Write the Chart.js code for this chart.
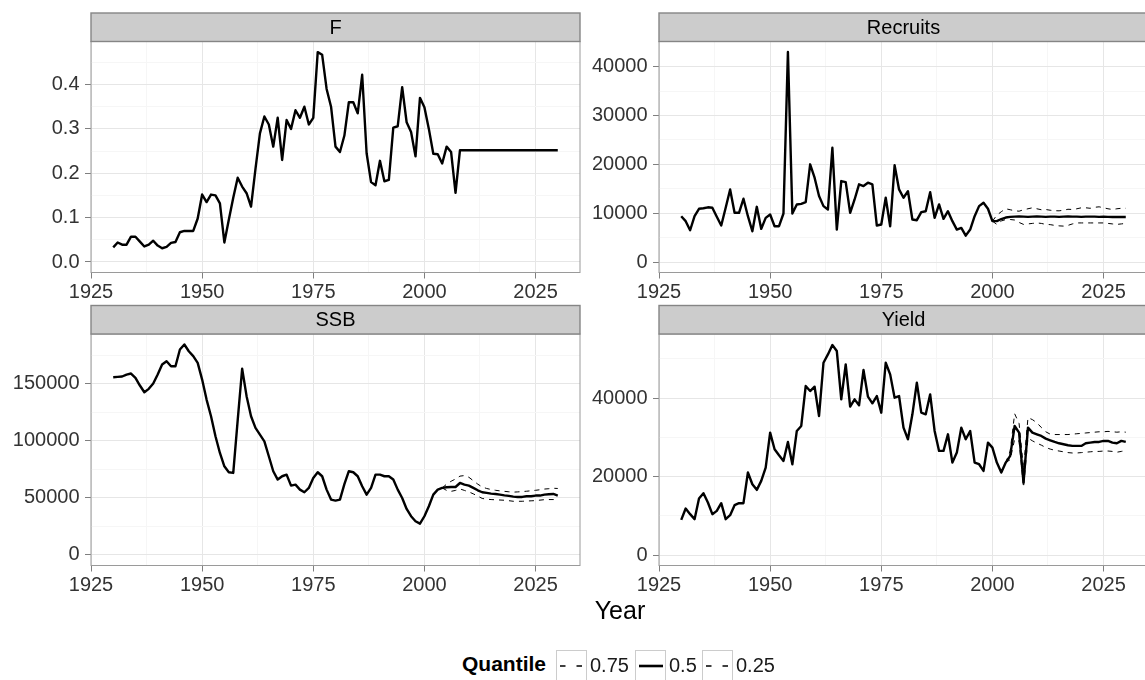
<!DOCTYPE html>
<html>
<head>
<meta charset="utf-8">
<title>Stock projection quantiles</title>
<script src="https://cdn.jsdelivr.net/npm/chart.js@4.4.0/dist/chart.umd.min.js"></script>
<style>
  html, body { margin: 0; padding: 0; background: #fff; }
  #fig { position: relative; width: 1145px; height: 680px; overflow: hidden; background: #fff;
         font-family: "Liberation Sans", Arial, Helvetica, sans-serif; color: #000; }
  #fig canvas { position: absolute; }
  .txt { position: absolute; white-space: nowrap; }
  #xtitle { left: 520px; width: 200px; top: 598px; font-size: 25px; line-height: 25px; text-align: center; }
  .lg { font-size: 20px; line-height: 20px; top: 655px; color: #1a1a1a; }
  #lgTitle { font-weight: bold; font-size: 21px; color: #000; top: 654px; }
  .key { position: absolute; top: 650px; width: 29px; height: 29px; border: 1px solid #cccccc; background: #fff; }
  .key svg { position: absolute; left: 0; top: 0; }
</style>
</head>
<body>
<div id="fig">
  <canvas id="cF" width="590" height="305" style="left:0px;top:0px"></canvas>
  <canvas id="cR" width="590" height="305" style="left:569px;top:0px"></canvas>
  <canvas id="cS" width="590" height="305" style="left:0px;top:293px"></canvas>
  <canvas id="cY" width="590" height="305" style="left:569px;top:293px"></canvas>

  <div id="xtitle" class="txt">Year</div>

  <div id="lgTitle" class="txt lg" style="left:462px">Quantile</div>
  <div class="key" style="left:556px"><svg width="29" height="29"><line x1="3" y1="15" x2="27" y2="15" stroke="#000" stroke-width="1.3" stroke-dasharray="5.5 11"/></svg></div>
  <div class="txt lg" style="left:590px">0.75</div>
  <div class="key" style="left:635px"><svg width="29" height="29"><line x1="3" y1="15" x2="27" y2="15" stroke="#000" stroke-width="2.6"/></svg></div>
  <div class="txt lg" style="left:669px">0.5</div>
  <div class="key" style="left:702px"><svg width="29" height="29"><line x1="3" y1="15" x2="27" y2="15" stroke="#000" stroke-width="1.3" stroke-dasharray="5.5 11"/></svg></div>
  <div class="txt lg" style="left:736px">0.25</div>
</div>

<script>
// ---- data -------------------------------------------------------------
const years = [
  1930,1931,1932,1933,1934,1935,1936,1937,1938,1939,
  1940,1941,1942,1943,1944,1945,1946,1947,1948,1949,
  1950,1951,1952,1953,1954,1955,1956,1957,1958,1959,
  1960,1961,1962,1963,1964,1965,1966,1967,1968,1969,
  1970,1971,1972,1973,1974,1975,1976,1977,1978,1979,
  1980,1981,1982,1983,1984,1985,1986,1987,1988,1989,
  1990,1991,1992,1993,1994,1995,1996,1997,1998,1999,
  2000,2001,2002,2003,2004,2005,2006,2007,2008,2009,
  2010,2011,2012,2013,2014,2015,2016,2017,2018,2019,
  2020,2021,2022,2023,2024,2025,2026,2027,2028,2029,
  2030
];

// axis breaks (labelled) and minor breaks (grid only)
const yearBreaks = [1925, 1950, 1975, 2000, 2025];
const yearMinorBreaks = [1937.5, 1962.5, 1987.5, 2012.5];
const fBreaks = [0, 0.1, 0.2, 0.3, 0.4];
const fMinorBreaks = [0.05, 0.15, 0.25, 0.35, 0.45];
const recBreaks = [0, 10000, 20000, 30000, 40000];
const recMinorBreaks = [5000, 15000, 25000, 35000];
const ssbBreaks = [0, 50000, 100000, 150000];
const ssbMinorBreaks = [25000, 75000, 125000, 175000];
const yieldBreaks = [0, 20000, 40000];
const yieldMinorBreaks = [10000, 30000, 50000];

// fishing mortality, median
const fMedian = [
  0.033,0.044,0.039,0.039,0.057,0.057,0.046,0.035,0.039,0.048,
  0.037,0.031,0.034,0.043,0.045,0.067,0.070,0.070,0.070,0.098,
  0.152,0.135,0.152,0.150,0.132,0.044,0.095,0.145,0.190,0.170,
  0.155,0.125,0.210,0.290,0.328,0.310,0.260,0.325,0.230,0.320,
  0.300,0.342,0.325,0.350,0.310,0.325,0.473,0.467,0.390,0.350,
  0.260,0.248,0.285,0.360,0.360,0.335,0.422,0.245,0.180,0.173,
  0.228,0.182,0.185,0.303,0.306,0.394,0.315,0.293,0.238,0.370,
  0.349,0.300,0.244,0.243,0.222,0.260,0.248,0.156,0.252,0.252,
  0.252,0.252,0.252,0.252,0.252,0.252,0.252,0.252,0.252,0.252,
  0.252,0.252,0.252,0.252,0.252,0.252,0.252,0.252,0.252,0.252,
  0.252
];

// recruitment
const recMedian = [
  9380,8360,6500,9380,10900,11000,11200,11100,9250,7470,
  11100,14860,10070,10070,12950,9380,6300,11300,6780,9040,
  9730,7330,7330,9930,43000,9930,11780,11900,12260,20000,
  17260,13500,11440,10750,23400,6640,16570,16370,10070,12800,
  15900,15550,16230,15900,7470,7670,13150,7330,19800,14860,
  13150,14500,8700,8560,10200,10400,14300,9040,11780,8840,
  10400,8360,6640,6990,5400,6640,9380,11440,12120,10900,
  8360,8360,8800,9100,9250,9300,9350,9300,9250,9300,
  9350,9300,9250,9300,9300,9250,9300,9350,9300,9300,
  9250,9300,9300,9300,9250,9300,9250,9200,9250,9200,
  9200
];
const recQStart = 2000;
const recQ75 = [
  8360,9600,10300,10900,10700,10500,10400,10700,10900,11100,
  10900,10700,10750,10600,10500,10480,10600,10800,10750,10900,
  11100,11100,11000,11200,11300,11100,10900,10750,10900,11000,
  11000
];
const recQ25 = [
  8360,7700,8400,8700,8700,8600,8100,7700,7800,7900,
  8000,7900,7700,7650,7500,7400,7350,7500,7800,8000,
  8000,8000,8000,8000,8000,8000,7900,7800,7700,7800,
  7900
];

// spawning stock biomass
const ssbMedian = [
  155600,155900,156200,157900,158800,155000,148300,142400,145400,150000,
  157900,166700,169600,165200,165200,179800,184200,178300,174000,168100,
  153500,136000,121400,103900,89300,77600,72400,71800,118000,163000,
  139000,121400,111200,105400,99500,86400,73300,66000,68900,70300,
  60700,61600,57200,54900,58700,67400,72400,68900,57200,48500,
  47600,48500,62000,73300,72400,68900,60100,52800,58700,70300,
  70300,68900,68900,66000,57200,49900,40300,33900,29500,27400,
  33900,42600,52800,57200,58700,59300,59500,59500,63000,61600,
  60700,58700,56600,54900,54300,53700,53400,52800,52200,51700,
  51100,50800,50800,51400,51400,52000,52000,52800,53100,53400,
  52000
];
const ssbQStart = 2004;
const ssbQ75 = [
  58700,62000,64500,66500,69000,69500,68000,65000,62000,59500,
  58200,57300,56600,56100,55700,55300,55000,55200,55500,55800,
  56200,56600,57100,57700,58000,58400,58200
];
const ssbQ25 = [
  58700,56500,55700,56500,57800,56500,55200,53500,51500,49500,
  48800,48500,48300,48100,47900,47500,47000,47000,47000,47200,
  47400,47600,48000,48400,48500,48500,48400
];

// yield
const yieldMedian = [
  8980,11860,10420,9150,14400,15760,13390,10420,11270,13220,
  9150,10170,12710,13220,13220,21020,18050,16610,18900,22290,
  31190,26950,25420,23980,28810,23140,31610,32880,43050,41780,
  42880,35420,48980,51100,53500,51950,39660,48560,37800,39660,
  38140,47120,40340,38640,40510,36270,48980,46020,40080,40510,
  32460,29490,35850,43900,36270,35850,40930,31610,26530,26530,
  30760,23560,26100,32460,29490,31610,23560,23140,21440,28640,
  27370,23560,21020,23560,25250,32880,31190,18470,32460,31190,
  30760,30340,29660,29240,28810,28470,28220,27970,27800,27800,
  27800,28470,28640,28810,28810,29070,29070,28640,28470,29070,
  28810
];
const yieldQStart = 2003;
const yieldQ75 = [
  23560,26500,36000,33500,22000,35000,34500,33700,32500,31400,
  30800,30700,30700,30700,30700,30800,30900,31000,31100,31200,
  31300,31400,31400,31500,31400,31300,31400,31300
];
const yieldQ25 = [
  23560,24300,29500,29000,17200,29800,29100,28500,28000,27400,
  27000,26700,26500,26300,26100,26000,26000,26100,26200,26300,
  26400,26400,26500,26500,26400,26200,26400,26600
];

// ---- helpers ----------------------------------------------------------
const FONT = '"Liberation Sans", Arial, Helvetica, sans-serif';
Chart.defaults.font.family = FONT;

function seriesPoints(values) {
  return years.map((yr, i) => ({ x: yr, y: values[i] }));
}
function projectionPoints(startYear, values) {
  return years
    .filter(yr => yr >= startYear)
    .map((yr, i) => ({ x: yr, y: values[i] }));
}

// facet strip above the panel plus the panel border
const facetPlugin = {
  id: 'facet',
  afterDatasetsDraw(chart, args, opts) {
    const { ctx, chartArea: a } = chart;
    const w = a.right - a.left;
    ctx.save();
    ctx.lineWidth = 1;
    ctx.strokeStyle = '#9a9a9a';
    ctx.strokeRect(a.left, a.top, w, a.bottom - a.top);
    const h = 28.5;
    ctx.fillStyle = '#cccccc';
    ctx.fillRect(a.left, a.top - h, w, h);
    ctx.strokeStyle = '#858585';
    ctx.lineWidth = 1.4;
    ctx.strokeRect(a.left, a.top - h, w, h);
    ctx.fillStyle = '#000';
    ctx.font = '20px ' + FONT;
    ctx.textAlign = 'center';
    ctx.textBaseline = 'middle';
    ctx.fillText(opts.label, a.left + w / 2, a.top - h / 2 + 1);
    ctx.restore();
  }
};

const MAJOR_GRID = '#e6e6e6';
const MINOR_GRID = '#f6f6f6';
const TICK_COLOR = '#7f7f7f';
const LABEL_COLOR = '#333333';

// axis with ggplot-like major (labelled) and minor (grid-only) breaks
function breakAxis(major, minor, fmt, extra) {
  const isMajor = v => major.some(m => Math.abs(m - v) < 1e-9);
  return Object.assign({
    type: 'linear',
    border: { display: false },
    afterBuildTicks: scale => {
      scale.ticks = major.concat(minor)
        .filter(v => v >= scale.min && v <= scale.max)
        .sort((a, b) => a - b)
        .map(v => ({ value: v }));
    },
    grid: {
      color: c => isMajor(c.tick.value) ? MAJOR_GRID : MINOR_GRID,
      tickColor: c => isMajor(c.tick.value) ? TICK_COLOR : 'rgba(0,0,0,0)',
      tickLength: 6,
      lineWidth: 1
    },
    ticks: {
      autoSkip: false,
      maxRotation: 0, minRotation: 0,
      color: LABEL_COLOR,
      font: { size: 20 },
      callback: v => isMajor(v) ? fmt(v) : ''
    }
  }, extra);
}

function makePanel(canvasId, p) {
  const datasets = [{
    label: '0.5',
    data: seriesPoints(p.median),
    borderColor: '#000',
    borderWidth: 2.4,
    pointRadius: 0,
    tension: 0,
    borderJoinStyle: 'round'
  }];
  if (p.q75) {
    datasets.push({
      label: '0.75',
      data: projectionPoints(p.qStart, p.q75),
      borderColor: '#000', borderWidth: 1, borderDash: [5, 5],
      pointRadius: 0, tension: 0
    });
    datasets.push({
      label: '0.25',
      data: projectionPoints(p.qStart, p.q25),
      borderColor: '#000', borderWidth: 1, borderDash: [5, 5],
      pointRadius: 0, tension: 0
    });
  }

  const xAxis = breakAxis(yearBreaks, yearMinorBreaks, v => String(v), {
    min: 1925, max: 2035,
    afterFit: s => { s.height = 32.5; }
  });
  xAxis.ticks.padding = 2;

  const yAxis = breakAxis(p.breaks, p.minorBreaks, p.fmt, {
    min: p.yMin, max: p.yMax,
    afterFit: s => { s.width = p.yWidth; }
  });
  yAxis.ticks.padding = 5.5;

  new Chart(document.getElementById(canvasId), {
    type: 'line',
    data: { datasets },
    options: {
      responsive: false,
      animation: false,
      events: [],
      layout: { padding: { top: p.padTop, right: p.padRight, left: 0, bottom: 0 } },
      plugins: {
        legend: { display: false },
        tooltip: { enabled: false },
        facet: { label: p.label }
      },
      scales: { x: xAxis, y: yAxis }
    },
    plugins: [facetPlugin]
  });
}

const fmtInt = v => String(Math.round(v));

makePanel('cF', {
  label: 'F', median: fMedian,
  breaks: fBreaks, minorBreaks: fMinorBreaks, fmt: v => v.toFixed(1),
  yMin: -0.0237, yMax: 0.497,
  padTop: 41.5, padRight: 10, yWidth: 91
});
makePanel('cR', {
  label: 'Recruits', median: recMedian, q75: recQ75, q25: recQ25, qStart: recQStart,
  breaks: recBreaks, minorBreaks: recMinorBreaks, fmt: fmtInt,
  yMin: -2150, yMax: 45150,
  padTop: 41.5, padRight: 11, yWidth: 90
});
makePanel('cS', {
  label: 'SSB', median: ssbMedian, q75: ssbQ75, q25: ssbQ25, qStart: ssbQStart,
  breaks: ssbBreaks, minorBreaks: ssbMinorBreaks, fmt: fmtInt,
  yMin: -9210, yMax: 193400,
  padTop: 41, padRight: 10, yWidth: 91
});
makePanel('cY', {
  label: 'Yield', median: yieldMedian, q75: yieldQ75, q25: yieldQ25, qStart: yieldQStart,
  breaks: yieldBreaks, minorBreaks: yieldMinorBreaks, fmt: fmtInt,
  yMin: -2650, yMax: 56300,
  padTop: 41, padRight: 11, yWidth: 90
});
</script>
</body>
</html>
